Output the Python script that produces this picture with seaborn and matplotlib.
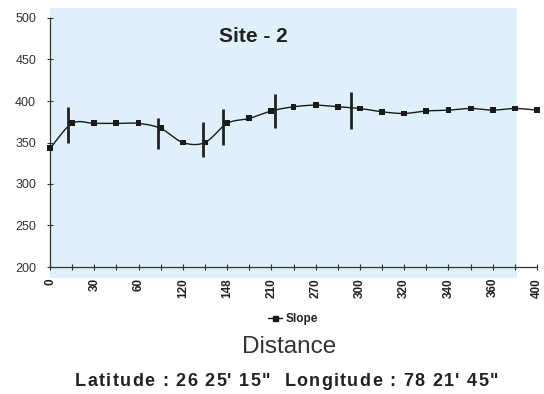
import numpy as np
import pandas as pd
import matplotlib
matplotlib.use("Agg")
import matplotlib.pyplot as plt
from matplotlib.patches import Rectangle
from matplotlib.lines import Line2D
import seaborn as sns

# Slope readings along the transect (one per survey station)
slope = [343, 373, 373, 373, 373, 367, 350, 350, 373, 379, 388, 393,
         395, 393, 391, 387, 385, 388, 389, 391, 389, 391, 389]
# Distance labels shown on every second station
distance_labels = ["0", "30", "60", "120", "148", "210", "270",
                   "300", "320", "340", "360", "400"]
# Spread bars: station position, lower and upper value
spread_pos = [0.83, 4.89, 6.93, 7.83, 10.16, 13.6]
spread_low = [350, 342, 332, 347, 367, 366]
spread_high = [393, 379, 375, 390, 408, 411]

sns.set_theme(style="white")
plt.rcParams["font.family"] = ["Liberation Sans", "DejaVu Sans"]

W, H = 544, 394
fig = plt.figure(figsize=(W / 100, H / 100), dpi=100)
left, right, top, bottom = 50, 537, 18, 267
ax = fig.add_axes([left / W, 1 - bottom / H, (right - left) / W, (bottom - top) / H])
ax.set_facecolor("none")

pos = np.arange(len(slope))
df = pd.DataFrame({"station": pos, "slope": slope})


def catmull_rom(x, y, n=24):
    px = np.concatenate([[2 * x[0] - x[1]], x, [2 * x[-1] - x[-2]]])
    py = np.concatenate([[2 * y[0] - y[1]], y, [2 * y[-1] - y[-2]]])
    xs, ys = [], []
    t = np.linspace(0, 1, n, endpoint=False)
    for i in range(1, len(px) - 2):
        for p, out in ((px, xs), (py, ys)):
            p0, p1, p2, p3 = p[i - 1], p[i], p[i + 1], p[i + 2]
            out.extend(0.5 * ((2 * p1) + (-p0 + p2) * t
                              + (2 * p0 - 5 * p1 + 4 * p2 - p3) * t ** 2
                              + (-p0 + 3 * p1 - 3 * p2 + p3) * t ** 3))
    xs.append(x[-1]); ys.append(y[-1])
    return np.array(xs), np.array(ys)


sx, sy = catmull_rom(pos.astype(float), np.array(slope, dtype=float))
curve = pd.DataFrame({"x": sx, "y": sy})

# plot background panel
ax.add_patch(Rectangle((0, -0.044), 21.1, 1.084, transform=ax.get_xaxis_transform(),
                       facecolor="#dff0fb", edgecolor="none", zorder=0, clip_on=False))

sns.lineplot(data=curve, x="x", y="y", sort=False, estimator=None, color="#1a1a1a",
             linewidth=1.0, ax=ax, zorder=3)
sns.scatterplot(data=df, x="station", y="slope", marker="s", s=18, color="#1a1a1a",
                edgecolor="none", ax=ax, zorder=4, clip_on=False)
ax.vlines(spread_pos, spread_low, spread_high, color="#222222", linewidth=2.0, zorder=5)

ax.set_xlim(0, len(slope) - 1)
ax.set_ylim(200, 500)
ax.set_yticks(range(200, 501, 50))
ax.set_xticks(pos, minor=False)
ax.set_xticklabels([distance_labels[i // 2] if i % 2 == 0 else "" for i in pos],
                   rotation=90, fontsize=8.5, fontweight="bold", color="#222222")
ax.tick_params(axis="y", labelsize=9, labelcolor="#333333", direction="inout",
               length=5, width=0.8, color="#333333", pad=7.5, left=True)
ax.tick_params(axis="x", direction="inout", length=5, width=0.8, color="#333333",
               pad=5.4, bottom=True)
ax.set_xlabel("")
ax.set_ylabel("")
for s in ("top", "right"):
    ax.spines[s].set_visible(False)
for s in ("left", "bottom"):
    ax.spines[s].set_color("#333333")
    ax.spines[s].set_linewidth(0.9)

ax.text(253 / W, 1 - 36 / H, "Site - 2", transform=fig.transFigure, ha="center",
        va="center", fontsize=15, fontweight="bold", color="#222222")

handle = Line2D([], [], color="#1a1a1a", linewidth=1.0, marker="s", markersize=3.6)
fig.legend([handle], ["Slope"], loc="center", bbox_to_anchor=(293 / W, 1 - 319 / H),
           frameon=False, handlelength=1.2, handletextpad=0.3,
           prop={"size": 8.5, "weight": "bold"}, labelcolor="#222222")

fig.text(289 / W, 1 - 347 / H, "Distance", ha="center", va="center", fontsize=17.5,
         color="#333333")


def spaced_text(s, x0, x1, y, **kw):
    """Draw a string spread evenly between two pixel x positions."""
    renderer = fig.canvas.get_renderer()

    def width(txt):
        t = fig.text(0, 0, txt + "|", **kw)
        w = t.get_window_extent(renderer).width
        t.remove()
        return w

    bar = width("")
    offsets = [width(s[:i]) - bar for i in range(len(s) + 1)]
    natural = offsets[-1]
    track = (x1 - x0 - natural) / (len(s) - 1)
    for i, ch in enumerate(s):
        if ch == " ":
            continue
        fig.text((x0 + offsets[i] + i * track) / W, 1 - y / H, ch,
                 ha="left", va="center", **kw)


spaced_text("Latitude : 26 25' 15\"  Longitude : 78 21' 45\"", 75, 498, 381,
            fontsize=13, fontweight="bold", color="#222222")

fig.savefig("out.png", dpi=100)
